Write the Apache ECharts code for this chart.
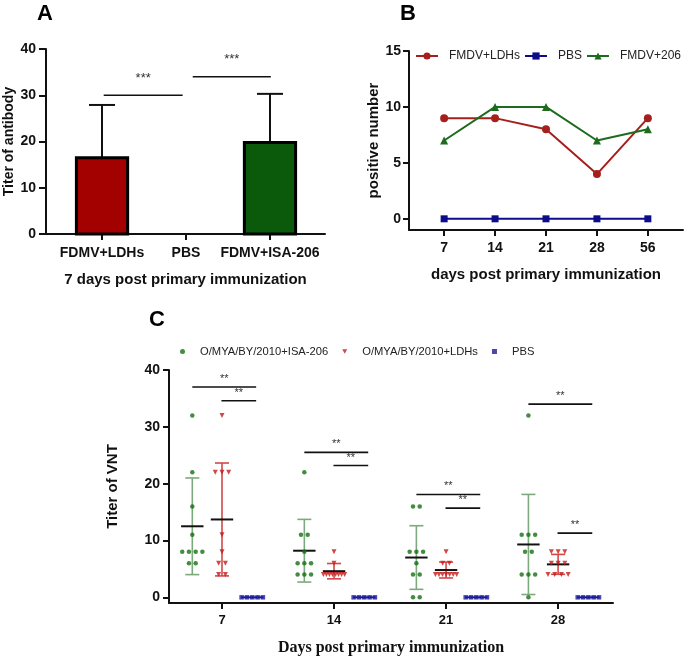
<!DOCTYPE html>
<html>
<head>
<meta charset="utf-8">
<script src="https://cdn.jsdelivr.net/npm/echarts@6.0.0/dist/echarts.min.js"></script>
<style>
  html, body { margin: 0; padding: 0; background: #fff; }
  #chart { width: 685px; height: 658px; }
</style>
</head>
<body>
<div id="chart"></div>
<script>
// ---- panel A: 7 days, mean + SD
var groupsA = ['FDMV+LDHs', 'PBS', 'FDMV+ISA-206'];
var meanA = [16.5, 0, 19.8];
var sdA = [11.4, 0, 10.5];
var sigA = [[0, 1, 30, '***'], [1, 2, 34, '***']];

// ---- panel B: positive number over time
var daysB = ['7', '14', '21', '28', '56'];
var ldhsB = [9, 9, 8, 4, 9];
var pbsB = [0, 0, 0, 0, 0];
var isaB = [7, 10, 10, 7, 8];

// ---- panel C: VNT titers per animal
var daysC = ['7', '14', '21', '28'];
var isaC = [
  [32, 22, 16, 11, 8, 8, 8, 8, 6, 6],
  [22, 11, 11, 8, 6, 6, 6, 4, 4, 4],
  [16, 16, 8, 8, 8, 6, 4, 4, 0, 0],
  [32, 11, 11, 11, 8, 8, 4, 4, 4, 0]
];
var ldhsC = [
  [32, 22, 22, 22, 11, 8, 6, 6, 4, 4],
  [8, 6, 4, 4, 4, 4, 4, 4, 4, 4],
  [8, 6, 6, 4, 4, 4, 4, 4, 4, 4],
  [8, 8, 8, 6, 6, 6, 4, 4, 4, 4]
];
var pbsC = [
  [0, 0, 0, 0, 0],
  [0, 0, 0, 0, 0],
  [0, 0, 0, 0, 0],
  [0, 0, 0, 0, 0]
];
// [long bar (ISA vs PBS), short bar (LDHs vs PBS)]
var sigC = [[37, 34.6], [25.5, 23.2], [18.1, 15.7], [34, 11.3]];

var FONT = '"Liberation Sans", Arial, sans-serif';
var ink = '#111';

function mean(a) { return a.reduce(function (s, v) { return s + v; }, 0) / a.length; }
function sd(a) {
  var m = mean(a);
  return Math.sqrt(a.reduce(function (s, v) { return s + (v - m) * (v - m); }, 0) / (a.length - 1));
}
// spread equal values sideways like a column scatter
function jitter(vals, step, maxSpread) {
  var counts = {}, seen = {};
  vals.forEach(function (v) { counts[v] = (counts[v] || 0) + 1; });
  return vals.map(function (v) {
    var n = counts[v];
    seen[v] = (seen[v] || 0) + 1;
    var s = n > 1 ? Math.min(step, maxSpread / (n - 1)) : 0;
    return (seen[v] - 1 - (n - 1) / 2) * s;
  });
}

function axisBase(idx) {
  return {
    gridIndex: idx,
    type: 'value',
    splitLine: { show: false },
    axisLine: { show: true, onZero: false, lineStyle: { color: ink, width: 2 } },
    axisTick: { show: true, length: 6, lineStyle: { color: ink, width: 2 } },
    axisLabel: { color: ink, fontFamily: FONT, fontWeight: 'bold', fontSize: 14 },
    nameLocation: 'middle',
    nameTextStyle: { color: ink, fontFamily: FONT, fontWeight: 'bold', fontSize: 15 }
  };
}
function merge(a, b) {
  var o = {};
  Object.keys(a).forEach(function (k) { o[k] = a[k]; });
  Object.keys(b).forEach(function (k) {
    if (o[k] && typeof o[k] === 'object' && !Array.isArray(o[k]) && typeof b[k] === 'object' && !Array.isArray(b[k])) {
      o[k] = merge(o[k], b[k]);
    } else {
      o[k] = b[k];
    }
  });
  return o;
}

var chart = echarts.init(document.getElementById('chart'));

// significance bar renderer, text taken from the data row
function sigRenderer(rows, textGap, fontSize) {
  return function (params, api) {
    var row = rows[params.dataIndex];
    var a = api.coord([api.value(0), api.value(2)]);
    var b = api.coord([api.value(1), api.value(2)]);
    return {
      type: 'group',
      children: [
        { type: 'line', shape: { x1: a[0], y1: a[1], x2: b[0], y2: b[1] },
          style: { stroke: ink, lineWidth: 1.6 } },
        { type: 'text', style: { text: row[3], x: (a[0] + b[0]) / 2, y: a[1] - textGap,
          align: 'center', verticalAlign: 'middle', fill: '#333',
          font: fontSize + 'px ' + FONT } }
      ]
    };
  };
}

// ---- series A
var colorsA = ['#a30000', '#ffffff', '#0b5a0b'];
var barsA = groupsA.map(function (g, i) { return [i, meanA[i], sdA[i]]; });
var sigRowsA = sigA.map(function (s) {
  return s[0] === 0 ? [s[0] + 0.02, s[1] - 0.04, s[2], s[3]] : [s[0] + 0.08, s[1] + 0.01, s[2], s[3]];
});

// ---- series C
var offC = { isa: -0.265, ldhs: 0, pbs: 0.27 };
function scatterData(groups, off) {
  var out = [];
  groups.forEach(function (vals, g) {
    var j = jitter(vals, 0.06, 0.19);
    vals.forEach(function (v, k) { out.push([g + off + j[k], v]); });
  });
  return out;
}
var statsC = [];
[['isa', isaC, '#7caa7c'], ['ldhs', ldhsC, '#d24848'], ['pbs', pbsC, '#1a1a9c']].forEach(function (s) {
  s[1].forEach(function (vals, g) {
    statsC.push([g + offC[s[0]], mean(vals), sd(vals), s[2], s[0] === 'pbs' ? '#1a1a9c' : ink]);
  });
});
var sigRowsC = [];
sigC.forEach(function (s, g) {
  sigRowsC.push([g + offC.isa, g + offC.pbs + 0.035, s[0], '**']);
  sigRowsC.push([g - 0.005, g + offC.pbs + 0.035, s[1], '**']);
});

chart.setOption({
  animation: false,
  title: [
    { text: 'A', left: 37, top: 3, padding: 0, textStyle: { fontFamily: FONT, fontSize: 22, fontWeight: 'bold', color: '#000' } },
    { text: 'B', left: 400, top: 3, padding: 0, textStyle: { fontFamily: FONT, fontSize: 22, fontWeight: 'bold', color: '#000' } },
    { text: 'C', left: 149, top: 309, padding: 0, textStyle: { fontFamily: FONT, fontSize: 22, fontWeight: 'bold', color: '#000' } }
  ],
  legend: [
    {
      left: 415, top: 50, padding: 0, width: 330, itemWidth: 22, itemHeight: 9, itemGap: 4,
      textStyle: { fontFamily: FONT, fontSize: 12, color: '#222', padding: [0, 0, 0, 6] },
      data: ['FMDV+LDHs', 'PBS', 'FMDV+206']
    },
    {
      left: 180, top: 346, padding: 0, width: 500, itemWidth: 5, itemHeight: 5, itemGap: 14,
      textStyle: { fontFamily: FONT, fontSize: 11.2, color: '#222', padding: [0, 0, 0, 10] },
      data: [
        { name: 'O/MYA/BY/2010+ISA-206', icon: 'circle' },
        { name: 'O/MYA/BY/2010+LDHs', icon: 'path://M0,0L10,0L5,9Z' },
        { name: 'PBS ', icon: 'rect' }
      ]
    }
  ],
  grid: [
    { left: 46, top: 49, width: 279, height: 185 },
    { left: 409, top: 51, width: 274, height: 179 },
    { left: 169, top: 370, width: 444, height: 233 }
  ],
  xAxis: [
    merge(axisBase(0), {
      min: -0.667, max: 2.655,
      name: '7 days post primary immunization', nameGap: 38,
      axisTick: { customValues: [0, 1, 2] },
      axisLabel: { customValues: [0, 1, 2], margin: 12, formatter: function (v) { return groupsA[v]; } }
    }),
    merge(axisBase(1), {
      min: -0.69, max: 4.69,
      name: 'days post primary immunization', nameGap: 37,
      axisTick: { customValues: [0, 1, 2, 3, 4] },
      axisLabel: { customValues: [0, 1, 2, 3, 4], margin: 11, formatter: function (v) { return daysB[v]; } }
    }),
    merge(axisBase(2), {
      min: -0.473, max: 3.49,
      name: 'Days post primary immunization', nameGap: 37,
      nameTextStyle: { fontFamily: '"Liberation Serif", "Times New Roman", serif', fontSize: 16 },
      axisTick: { customValues: [0, 1, 2, 3] },
      axisLabel: { customValues: [0, 1, 2, 3], margin: 11, fontSize: 13, formatter: function (v) { return daysC[v]; } }
    })
  ],
  yAxis: [
    merge(axisBase(0), {
      min: 0, max: 40, interval: 10,
      name: 'Titer of antibody', nameGap: 30, nameTextStyle: { fontSize: 14 },
      axisTick: { length: 7 },
      axisLabel: { margin: 10 }
    }),
    merge(axisBase(1), {
      min: -1, max: 15,
      name: 'positive number', nameGap: 27,
      axisTick: { customValues: [0, 5, 10, 15] },
      axisLabel: { customValues: [0, 5, 10, 15], margin: 8 }
    }),
    merge(axisBase(2), {
      min: -1, max: 40,
      name: 'Titer of VNT', nameGap: 49,
      axisTick: { customValues: [0, 10, 20, 30, 40] },
      axisLabel: { customValues: [0, 10, 20, 30, 40], margin: 9 }
    })
  ],
  series: [
    // ---- A
    {
      type: 'custom', xAxisIndex: 0, yAxisIndex: 0, data: barsA, encode: { x: 0, y: 1 },
      renderItem: function (params, api) {
        var i = params.dataIndex;
        if (api.value(1) <= 0) return null;
        var w = api.size([1, 0])[0] * 0.61;
        var top = api.coord([api.value(0), api.value(1)]);
        var base = api.coord([api.value(0), 0]);
        var errTop = api.coord([api.value(0), api.value(1) + api.value(2)]);
        var cap = api.size([1, 0])[0] * 0.31;
        return {
          type: 'group',
          children: [
            { type: 'line', shape: { x1: top[0], y1: top[1], x2: errTop[0], y2: errTop[1] },
              style: { stroke: ink, lineWidth: 2 } },
            { type: 'line', shape: { x1: errTop[0] - cap / 2, y1: errTop[1], x2: errTop[0] + cap / 2, y2: errTop[1] },
              style: { stroke: ink, lineWidth: 2 } },
            { type: 'rect', shape: { x: top[0] - w / 2, y: top[1], width: w, height: base[1] - top[1] },
              style: { fill: colorsA[i], stroke: '#000', lineWidth: 3 } }
          ]
        };
      }
    },
    {
      type: 'custom', xAxisIndex: 0, yAxisIndex: 0, data: sigRowsA.map(function (r) { return [r[0], r[1], r[2]]; }),
      encode: { x: [0, 1], y: 2 },
      renderItem: sigRenderer(sigRowsA, 17, 13)
    },
    // ---- B
    {
      name: 'FMDV+LDHs', type: 'line', xAxisIndex: 1, yAxisIndex: 1,
      data: ldhsB.map(function (v, i) { return [i, v]; }),
      symbol: 'circle', symbolSize: 8,
      lineStyle: { color: '#a5201c', width: 2 }, itemStyle: { color: '#a5201c' }
    },
    {
      name: 'PBS', type: 'line', xAxisIndex: 1, yAxisIndex: 1,
      data: pbsB.map(function (v, i) { return [i, v]; }),
      symbol: 'rect', symbolSize: 7,
      lineStyle: { color: '#0d0d8c', width: 2 }, itemStyle: { color: '#0d0d8c' }
    },
    {
      name: 'FMDV+206', type: 'line', xAxisIndex: 1, yAxisIndex: 1,
      data: isaB.map(function (v, i) { return [i, v]; }),
      symbol: 'triangle', symbolSize: 8,
      lineStyle: { color: '#1d6b1d', width: 2 }, itemStyle: { color: '#1d6b1d' }
    },
    // ---- C mean / SD
    {
      type: 'custom', xAxisIndex: 2, yAxisIndex: 2, z: 1,
      data: statsC.map(function (r) { return [r[0], r[1], r[2]]; }), encode: { x: 0, y: 1 },
      renderItem: function (params, api) {
        var r = statsC[params.dataIndex];
        var x = api.value(0), m = api.value(1), s = api.value(2);
        var unit = api.size([1, 0])[0];
        var c = api.coord([x, m]);
        var hi = api.coord([x, m + s]);
        var lo = api.coord([x, m - s]);
        var kids = [];
        if (s > 0) {
          var cap = unit * 0.125;
          kids.push({ type: 'line', shape: { x1: hi[0], y1: hi[1], x2: lo[0], y2: lo[1] }, style: { stroke: r[3], lineWidth: 1.6 } });
          kids.push({ type: 'line', shape: { x1: hi[0] - cap / 2, y1: hi[1], x2: hi[0] + cap / 2, y2: hi[1] }, style: { stroke: r[3], lineWidth: 1.6 } });
          kids.push({ type: 'line', shape: { x1: lo[0] - cap / 2, y1: lo[1], x2: lo[0] + cap / 2, y2: lo[1] }, style: { stroke: r[3], lineWidth: 1.6 } });
        }
        var half = unit * 0.1;
        kids.push({ type: 'line', shape: { x1: c[0] - half, y1: c[1], x2: c[0] + half, y2: c[1] }, style: { stroke: r[4], lineWidth: 2 } });
        return { type: 'group', children: kids };
      }
    },
    {
      name: 'O/MYA/BY/2010+ISA-206', type: 'scatter', xAxisIndex: 2, yAxisIndex: 2, z: 3,
      data: scatterData(isaC, offC.isa), symbol: 'circle', symbolSize: 4.5,
      itemStyle: { color: '#137013' }
    },
    {
      name: 'O/MYA/BY/2010+LDHs', type: 'scatter', xAxisIndex: 2, yAxisIndex: 2, z: 3,
      data: scatterData(ldhsC, offC.ldhs), symbol: 'path://M0,0L10,0L5,9Z', symbolSize: [5, 5],
      itemStyle: { color: '#c41a1a' }
    },
    {
      name: 'PBS ', type: 'scatter', xAxisIndex: 2, yAxisIndex: 2, z: 3,
      data: scatterData(pbsC, offC.pbs), symbol: 'rect', symbolSize: 4.5,
      itemStyle: { color: '#1a1a9c' }
    },
    {
      type: 'custom', xAxisIndex: 2, yAxisIndex: 2,
      data: sigRowsC.map(function (r) { return [r[0], r[1], r[2]]; }), encode: { x: [0, 1], y: 2 },
      renderItem: sigRenderer(sigRowsC, 8, 11)
    }
  ]
});
</script>
</body>
</html>
